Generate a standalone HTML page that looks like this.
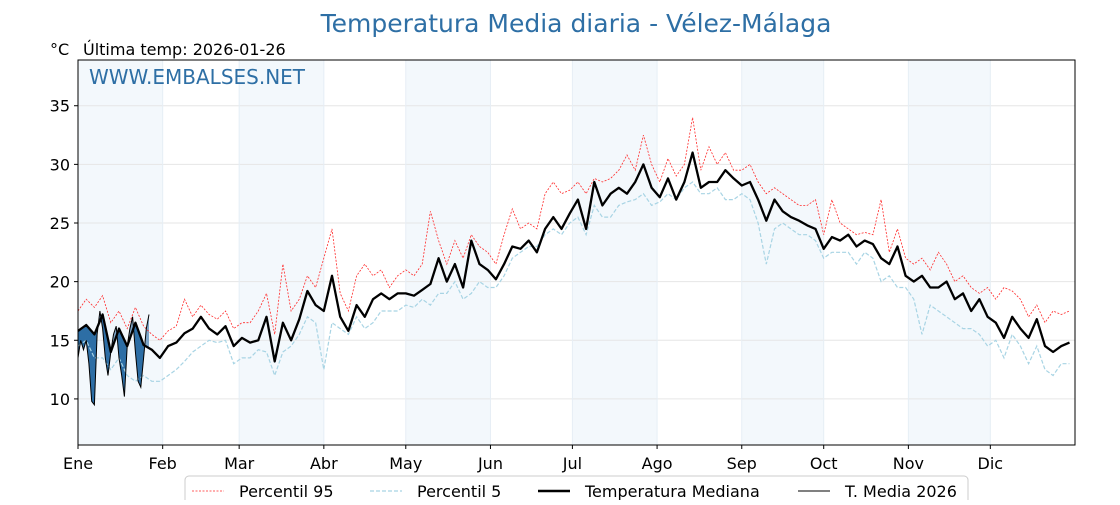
<!DOCTYPE html>
<html><head><meta charset="utf-8"><style>
body{margin:0;background:#fff;font-family:"Liberation Sans","DejaVu Sans",sans-serif}
svg text{font-family:"DejaVu Sans","Liberation Sans",sans-serif}
</style></head><body>
<svg id="c" width="1120" height="500"></svg>
<script>
const months=["Ene","Feb","Mar","Abr","May","Jun","Jul","Ago","Sep","Oct","Nov","Dic"];
const monthStart=[0,31,59,90,120,151,181,212,243,273,304,334];
const yTicks=[10,15,20,25,30,35];
const step=3;
const median=[15.8,16.3,15.5,17.2,14.0,16.0,14.5,16.5,14.6,14.2,13.5,
14.5,14.8,15.6,16.0,17.0,16.0,15.5,16.2,14.5,15.2,
14.8,15.0,17.0,13.2,16.5,15.0,16.8,19.2,18.0,17.5,
20.5,17.0,15.8,18.0,17.0,18.5,19.0,18.5,19.0,19.0,
18.8,19.3,19.8,22.0,20.0,21.5,19.5,23.5,21.5,21.0,
20.2,21.5,23.0,22.8,23.5,22.5,24.5,25.5,24.5,25.8,
27.0,24.5,28.5,26.5,27.5,28.0,27.5,28.5,30.0,28.0,27.2,
28.8,27.0,28.5,31.0,28.0,28.5,28.5,29.5,28.8,28.2,
28.5,27.0,25.2,27.0,26.0,25.5,25.2,24.8,24.5,22.8,
23.8,23.5,24.0,23.0,23.5,23.2,22.0,21.5,23.0,20.5,
20.0,20.5,19.5,19.5,20.0,18.5,19.0,17.5,18.5,17.0,
16.5,15.2,17.0,16.0,15.2,16.8,14.5,14.0,14.5,14.8];
const p95=[17.5,18.5,17.8,18.8,16.5,17.5,16.0,17.8,16.2,15.5,15.0,
15.8,16.2,18.5,17.0,18.0,17.2,16.8,17.5,16.0,16.5,
16.5,17.5,19.0,15.5,21.5,17.5,18.5,20.5,19.5,22.0,
24.5,19.0,17.5,20.5,21.5,20.5,21.0,19.5,20.5,21.0,
20.5,21.5,26.0,23.5,21.5,23.5,22.0,24.0,23.0,22.5,
21.5,24.0,26.2,24.5,25.0,24.5,27.5,28.5,27.5,27.8,
28.5,27.5,28.8,28.5,28.8,29.5,30.8,29.5,32.5,30.0,28.5,
30.5,29.0,30.0,34.0,29.5,31.5,30.0,31.0,29.5,29.5,
30.0,28.5,27.5,28.0,27.5,27.0,26.5,26.5,27.0,24.0,
27.0,25.0,24.5,24.0,24.2,24.0,27.0,22.5,24.5,22.0,
21.5,22.0,21.0,22.5,21.5,20.0,20.5,19.5,19.0,19.5,
18.5,19.5,19.2,18.5,17.0,18.0,16.5,17.5,17.2,17.5];
const p5=[14.5,15.0,13.5,13.5,12.5,13.5,12.0,11.5,12.0,11.5,11.5,
12.0,12.5,13.2,14.0,14.5,15.0,14.8,15.0,13.0,13.5,
13.5,14.2,14.0,12.0,14.0,14.5,15.5,17.0,16.5,12.5,
16.5,16.0,15.5,17.0,16.0,16.5,17.5,17.5,17.5,18.0,
17.8,18.5,18.0,19.0,19.0,20.0,18.5,19.0,20.0,19.5,
19.5,20.5,22.0,22.5,23.0,23.0,24.0,24.5,24.0,25.0,
25.5,24.0,26.5,25.5,25.5,26.5,26.8,27.0,27.5,26.5,26.8,
27.5,27.0,28.0,28.5,27.5,27.5,28.0,27.0,27.0,27.5,
27.0,25.0,21.5,24.5,25.0,24.5,24.0,24.0,23.5,22.0,
22.5,22.5,22.5,21.5,22.5,22.0,20.0,20.5,19.5,19.5,
18.5,15.5,18.0,17.5,17.0,16.5,16.0,16.0,15.5,14.5,
15.0,13.5,15.5,14.5,13.0,14.5,12.5,12.0,13.0,13.0];
const t2026=[13.5,15.0,14.2,15.0,13.0,9.8,9.5,15.5,17.5,16.0,13.5,12.0,14.0,15.5,16.2,13.5,12.0,10.2,14.5,16.0,17.0,14.0,11.5,11.0,13.5,16.0,17.2];

const L=78,R=1075,T=60,B=445,yMin=6.07,yMax=38.9;
const X=d=>L+d*(R-L)/365;
const Y=v=>B-(v-yMin)*(B-T)/(yMax-yMin);
const svg=document.getElementById('c');
const NS='http://www.w3.org/2000/svg';
function mk(tag,attrs,parent){const e=document.createElementNS(NS,tag);for(const k in attrs)e.setAttribute(k,attrs[k]);(parent||svg).appendChild(e);return e;}
function txt(s,attrs){const e=mk('text',attrs);e.textContent=s;return e;}

monthStart.forEach((m,i)=>{
 if(i%2===0){const end=i<11?monthStart[i+1]:365;
  const r=mk('rect',{x:X(m),y:T,width:X(end)-X(m),height:B-T,fill:'#f3f8fc'});
  
  }
});
yTicks.forEach(v=>{const l=mk('line',{x1:L,x2:R,y1:Y(v),y2:Y(v),stroke:'#e6e6e6','stroke-width':1});
 
 });
monthStart.forEach(m=>{const l=mk('line',{x1:X(m),x2:X(m),y1:T,y2:B,stroke:'#e6eef5','stroke-width':1});
 
 });

function pts(arr,st){return arr.map((v,i)=>X(i*st).toFixed(1)+','+Y(v).toFixed(1)).join(' ');}
const medAt=d=>{const i=Math.floor(d/step),f=d/step-i;return median[i]*(1-f)+median[Math.min(i+1,median.length-1)]*f;};

const defs=mk('defs',{});
const cpA=mk('clipPath',{id:'above'},defs),cpB=mk('clipPath',{id:'below'},defs);
const medPts=t2026.map((v,d)=>X(d).toFixed(1)+','+Y(medAt(d)).toFixed(1));
const n=t2026.length-1;
mk('polygon',{points:medPts.join(' ')+` ${X(n)},${T} ${X(0)},${T}`},cpA);
mk('polygon',{points:medPts.join(' ')+` ${X(n)},${B} ${X(0)},${B}`},cpB);
const fillPoly=pts(t2026,1)+' '+medPts.slice().reverse().join(' ');
const fa=mk('polygon',{points:fillPoly,fill:'#7ea6c9','clip-path':'url(#above)'});


const fb=mk('polygon',{points:fillPoly,fill:'#2d6ea5','clip-path':'url(#below)'});



const l95=mk('polyline',{points:pts(p95,step),fill:'none',stroke:'#ff2a2a','stroke-width':0.8,'stroke-dasharray':'2,1.5'});


const l5=mk('polyline',{points:pts(p5,step),fill:'none',stroke:'#a8d4e4','stroke-width':1.2,'stroke-dasharray':'4,2'});


const lm=mk('polyline',{points:pts(median,step),fill:'none',stroke:'#000','stroke-width':2.3,'stroke-linejoin':'round'});


const l26=mk('polyline',{points:pts(t2026,1),fill:'none',stroke:'#000','stroke-width':1});



const fr=mk('rect',{x:L,y:T,width:R-L,height:B-T,fill:'none',stroke:'#000','stroke-width':1});



yTicks.forEach(v=>{mk('line',{x1:L-4,x2:L,y1:Y(v),y2:Y(v),stroke:'#000'});
 const t=txt(v,{x:L-8,y:Y(v)+6,'text-anchor':'end','font-size':16});
 
 });
months.forEach((m,i)=>{mk('line',{x1:X(monthStart[i]),x2:X(monthStart[i]),y1:B,y2:B+4,stroke:'#000'});
 const t=txt(m,{x:X(monthStart[i]),y:B+24,'text-anchor':'middle','font-size':16});
 
 });

let t=txt('Temperatura Media diaria - Vélez-Málaga',{x:576,y:32,'text-anchor':'middle','font-size':25,fill:'#2e6fa5'});

t=txt('°C',{x:50,y:55,'font-size':16});

t=txt('Última temp: 2026-01-26',{x:83,y:55,'font-size':16});

t=txt('WWW.EMBALSES.NET',{x:89,y:84,'font-size':20,fill:'#2e6fa5'});


const lg=mk('rect',{x:185,y:476,width:783,height:40,rx:4,fill:'#fff',stroke:'#ccc'});

const items=[["Percentil 95",192,'#ff2a2a',0.8,'2,1.5'],["Percentil 5",370,'#a8d4e4',1.2,'4,2'],["Temperatura Mediana",538,'#000',2.5,''],["T. Media 2026",798,'#000',1,'']];
items.forEach(it=>{
 const l=mk('line',{x1:it[1],x2:it[1]+32,y1:491,y2:491,stroke:it[2],'stroke-width':it[3],'stroke-dasharray':it[4]});
 
 const e=txt(it[0],{x:it[1]+47,y:497,'font-size':16});
 
});
</script>
</body></html>
